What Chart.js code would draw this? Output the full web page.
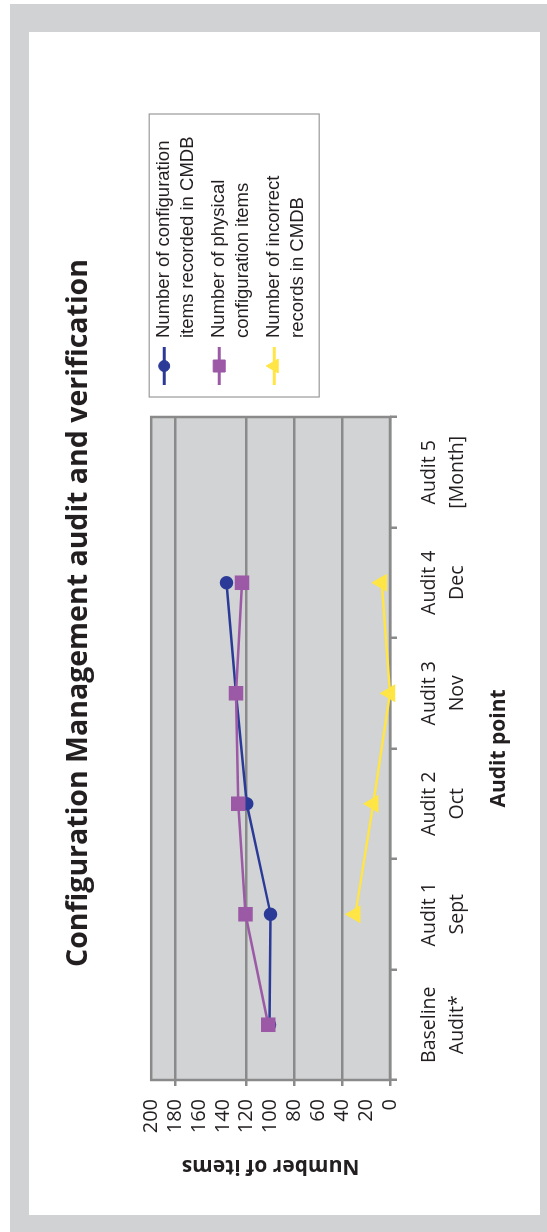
<!DOCTYPE html>
<html>
<head>
<meta charset="utf-8">
<title>Configuration Management audit and verification</title>
<script src="https://cdn.jsdelivr.net/npm/chart.js@4.4.1/dist/chart.umd.min.js"></script>
<style>
  html, body { margin: 0; padding: 0; background: #fff; }
  body { width: 547px; height: 1232px; position: relative; overflow: hidden; }
  .frame { position: absolute; left: 10px; top: 4px; width: 537px; height: 1228px; background: #d1d2d4; }
  .panel { position: absolute; left: 29px; top: 32px; width: 511px; height: 1183px; background: #fff; }
  /* the whole figure is printed turned on its side */
  .turned { position: absolute; left: 29px; top: 1194px; width: 1162px; height: 511px;
            transform-origin: 0 0; transform: rotate(-90deg); }
</style>
</head>
<body>
<div class="frame"></div>
<div class="panel"></div>
<div class="turned">
  <canvas id="auditChart" width="1162" height="511" style="width:1162px;height:511px"></canvas>
</div>

<script>
// categories (audit points)
const auditPoints = [
    ['Baseline', 'Audit*'],
    ['Audit 1', 'Sept'],
    ['Audit 2', 'Oct'],
    ['Audit 3', 'Nov'],
    ['Audit 4', 'Dec'],
    ['Audit 5', '[Month]']
];

// series values
const recordedInCmdb = [101, 100, 120, 129, 137, null];
const physicalItems = [102, 121, 127, 129, 124, null];
const incorrectRecords = [null, 29, 14, 0, 7, null];

// legend texts
const recordedLabel = ['Number of configuration', 'items recorded in CMDB'];
const physicalLabel = ['Number of physical', 'configuration items'];
const incorrectLabel = ['Number of incorrect', 'records in CMDB'];

// value axis
const yMin = 0;
const yMax = 200;
const yStep = 20;
const gridValues = [0, 40, 80, 120, 180];

const ink = '#231f20';
const lineGray = '#8a8a8a';

// grey plot background + frame round the plot
const plotFrame = {
    id: 'plotFrame',
    beforeDraw(chart) {
        const { ctx, chartArea: a } = chart;
        ctx.save();
        ctx.fillStyle = '#d1d3d4';
        ctx.fillRect(a.left, a.top, a.right - a.left, a.bottom - a.top);
        ctx.restore();
    },
    beforeDatasetsDraw(chart) {
        const { ctx, chartArea: a } = chart;
        ctx.save();
        ctx.strokeStyle = lineGray;
        ctx.lineWidth = 2.5;
        ctx.strokeRect(a.left, a.top, a.right - a.left, a.bottom - a.top);
        ctx.restore();
    }
};

// boxed legend, line with marker and two-line text
const boxedLegend = {
    id: 'boxedLegend',
    afterDraw(chart) {
        const { ctx, chartArea: a } = chart;
        const bx = a.right + 20;
        const by = a.top - 2;
        ctx.save();
        ctx.strokeStyle = '#9a9a9a';
        ctx.lineWidth = 1.2;
        ctx.strokeRect(bx, by, 283, 170);
        chart.data.datasets.forEach((ds, i) => {
            const cy = a.top + 13 + i * 55;
            ctx.strokeStyle = ds.borderColor;
            ctx.lineWidth = 3;
            ctx.beginPath();
            ctx.moveTo(bx + 12, cy);
            ctx.lineTo(bx + 50, cy);
            ctx.stroke();
            ctx.fillStyle = ds.pointBackgroundColor;
            ctx.strokeStyle = ds.pointBorderColor;
            ctx.lineWidth = 1;
            Chart.helpers.drawPoint(ctx, {
                pointStyle: ds.pointStyle,
                radius: ds.pointRadius,
                rotation: 0,
                borderWidth: 1
            }, bx + 31, cy);
            ctx.fillStyle = ink;
            ctx.font = '18.5px "Liberation Sans", Arial, sans-serif';
            ctx.textAlign = 'left';
            ctx.textBaseline = 'middle';
            ds.label.forEach((line, j) => {
                ctx.fillText(line, bx + 59, cy + j * 23.5);
            });
        });
        ctx.restore();
    }
};

Chart.defaults.font.family = '"Open Sans", sans-serif';
Chart.defaults.color = ink;

const ctx = document.getElementById('auditChart').getContext('2d');
const chart = new Chart(ctx, {
    type: 'line',
    data: {
        labels: auditPoints,
        datasets: [
            {
                label: recordedLabel,
                data: recordedInCmdb,
                order: 2,
                borderColor: '#2b3a97',
                borderWidth: 2.5,
                pointStyle: 'circle',
                pointRadius: 5.5,
                pointBackgroundColor: '#2b3a97',
                pointBorderColor: '#2b3a97',
                tension: 0,
                clip: false
            },
            {
                label: physicalLabel,
                data: physicalItems,
                order: 1,
                borderColor: '#9b59a6',
                borderWidth: 2.5,
                pointStyle: 'rect',
                pointRadius: 8.5,
                pointBackgroundColor: '#9b59a6',
                pointBorderColor: '#9b59a6',
                tension: 0,
                clip: false
            },
            {
                label: incorrectLabel,
                data: incorrectRecords,
                order: 0,
                borderColor: '#ffe545',
                borderWidth: 2.5,
                pointStyle: 'triangle',
                pointRadius: 8,
                pointBackgroundColor: '#ffe545',
                pointBorderColor: '#ffe545',
                tension: 0,
                clip: false
            }
        ]
    },
    options: {
        responsive: false,
        devicePixelRatio: 1,
        animation: false,
        layout: { padding: 0 },
        plugins: {
            legend: { display: false },
            tooltip: { enabled: false },
            title: {
                display: true,
                text: 'Configuration Management audit and verification',
                color: ink,
                font: { size: 28.5, weight: 'bold', lineHeight: 1.2 },
                padding: { top: 33, bottom: 55 }
            }
        },
        scales: {
            x: {
                offset: true,
                border: { display: false },
                grid: {
                    offset: true,
                    drawOnChartArea: false,
                    drawTicks: true,
                    tickLength: 7,
                    color: lineGray,
                    lineWidth: 2.5
                },
                ticks: {
                    maxRotation: 0,
                    autoSkip: false,
                    padding: 19,
                    color: ink,
                    font: { size: 19.5, lineHeight: 1.4 }
                },
                title: {
                    display: true,
                    text: 'Audit point',
                    color: ink,
                    font: { size: 21, weight: 'bold', lineHeight: 1.2 },
                    padding: { top: 0, bottom: 28 }
                },
                afterFit(scale) { scale.height = 150; }
            },
            y: {
                min: yMin,
                max: yMax,
                border: { display: false },
                grid: {
                    tickLength: 6,
                    lineWidth: 2.5,
                    color: c => gridValues.includes(c.tick.value) ? lineGray : 'rgba(0,0,0,0)'
                },
                ticks: {
                    stepSize: yStep,
                    autoSkip: false,
                    padding: 13,
                    color: ink,
                    font: { size: 20 }
                },
                title: {
                    display: true,
                    text: 'Number of items',
                    color: ink,
                    font: { size: 21, weight: 'bold', lineHeight: 1.2 },
                    padding: { top: 15, bottom: 0 }
                },
                afterFit(scale) { scale.width = 114; }
            },
            legendSpace: {
                type: 'linear',
                position: 'right',
                display: true,
                border: { display: false },
                grid: { display: false },
                ticks: { display: false },
                afterFit(scale) { scale.width = 385; }
            }
        }
    },
    plugins: [plotFrame, boxedLegend]
});
</script>
</body>
</html>
